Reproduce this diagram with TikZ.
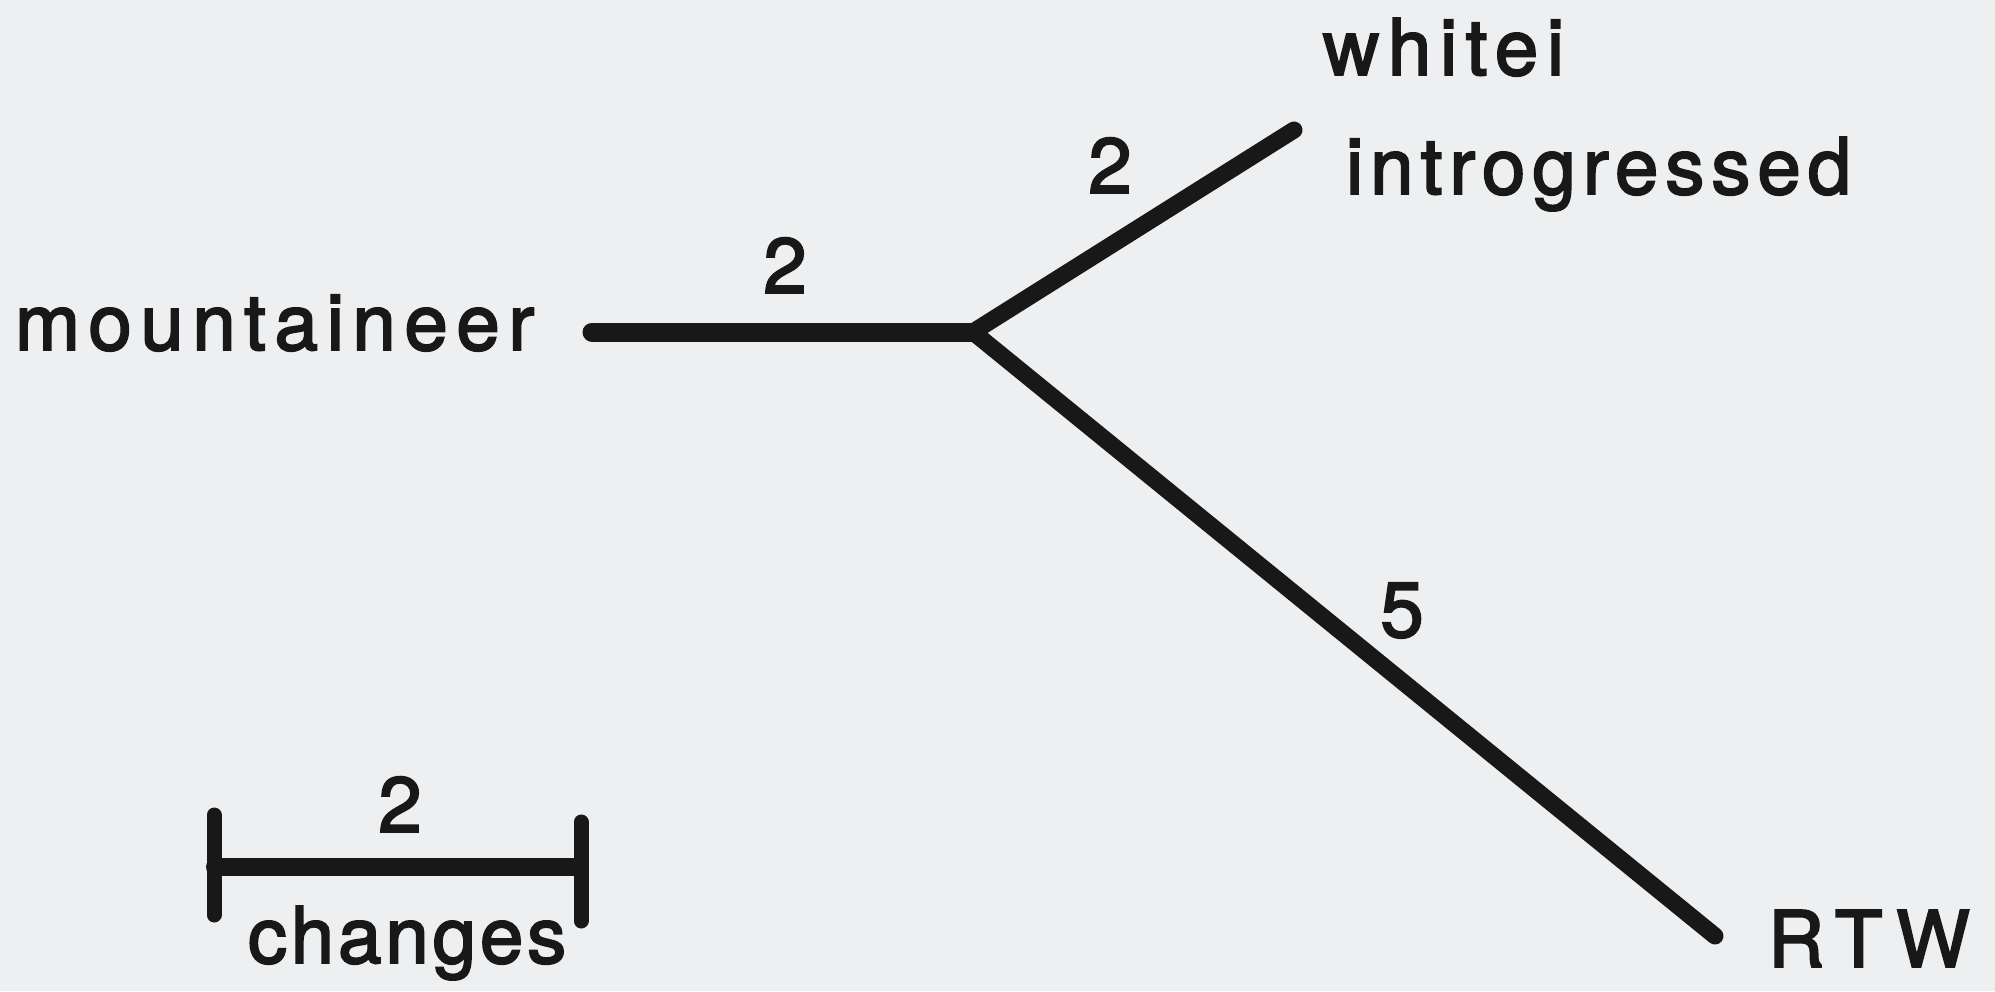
\documentclass[tikz,border=0pt]{standalone}
\usepackage{fontspec}
\setmainfont[FakeBold=2.5]{TeX Gyre Heros}
\definecolor{paper}{RGB}{238,239,240}
\definecolor{ink}{RGB}{24,24,24}
\tikzset{
  branch/.style={draw=ink, line width=17pt, line cap=round, line join=round},
  taxon/.style={inner sep=0pt, outer sep=0pt, anchor=base west, text=ink, font=\fontsize{78}{90}\selectfont},
  count/.style={inner sep=0pt, outer sep=0pt, anchor=base, text=ink, font=\fontsize{78}{90}\selectfont},
}
\newcommand{\spaced}[2]{{\addfontfeature{LetterSpace=#1}#2}}
\begin{document}
\begin{tikzpicture}[x=1pt, y=-1pt]
  % page
  \fill[paper] (0,0) rectangle (1995,991);
  \useasboundingbox (0,0) rectangle (1995,991);

  % tree
  \coordinate (root) at (592,332);
  \coordinate (fork) at (973,332);
  \coordinate (tipW) at (1294,130);
  \coordinate (tipR) at (1715,936);
  \draw[branch, line width=19pt] (root) -- (fork);
  \draw[branch] (fork) -- (tipW);
  \draw[branch] (fork) -- (tipR);

  % branch lengths
  \node[count] (lenM) at (785,293) {2};
  \node[count] (lenW) at (1110,193) {2};
  \node[count] (lenR) at (1402,637) {5};

  % taxa
  \node[taxon] (mount) at (15,350) {\spaced{11}{mountaineer}};
  \node[taxon] (whitei) at (1323,75) {\spaced{11}{whitei}};
  \node[taxon] (intro) at (1346,194) {\spaced{9}{introgressed}};
  \node[taxon] (rtw) at (1768,967) {\spaced{16}{RTW}};

  % scale bar
  \coordinate (sbL) at (215,867);
  \coordinate (sbR) at (580,867);
  \coordinate (sbLt) at (214,815);
  \coordinate (sbLb) at (214,915);
  \coordinate (sbRt) at (581,822);
  \coordinate (sbRb) at (581,921);
  \draw[branch, line width=18pt] (sbL) -- (sbR);
  \draw[branch, line width=15pt] (sbLt) -- (sbLb);
  \draw[branch, line width=15pt] (sbRt) -- (sbRb);
  \node[count] (sbN) at (400,832) {2};
  \node[taxon] (sbT) at (248,963) {\spaced{5}{changes}};
\end{tikzpicture}
\end{document}
